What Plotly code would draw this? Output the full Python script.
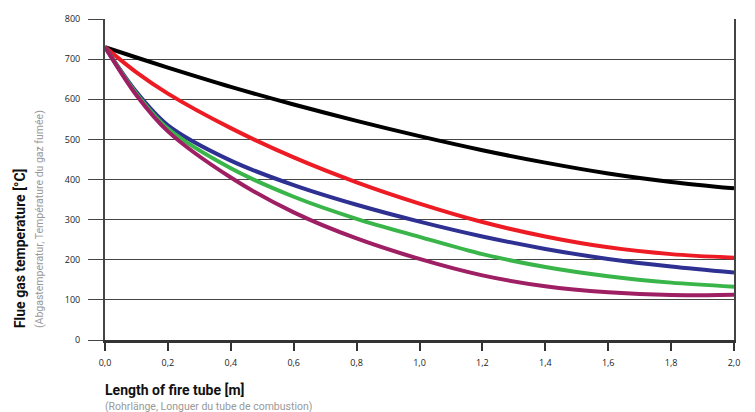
import plotly.graph_objects as go

length_m = [0.0, 0.1, 0.2, 0.4, 0.6, 0.8, 1.0, 1.2, 1.4, 1.6, 1.8, 2.0]
temp_black = [730, 704, 679, 631, 587, 546, 508, 473, 442, 415, 394, 378]
temp_red = [730, 667, 614, 528, 455, 393, 340, 294, 258, 231, 214, 205]
temp_blue = [730, 618, 535, 447, 386, 337, 295, 258, 227, 202, 183, 168]
temp_green = [730, 614, 527, 428, 357, 302, 257, 214, 182, 159, 143, 133]
temp_purple = [730, 610, 520, 405, 318, 253, 202, 161, 134, 119, 112, 113]

x_tickvals = [0.0, 0.2, 0.4, 0.6, 0.8, 1.0, 1.2, 1.4, 1.6, 1.8, 2.0]
x_ticktext = ["0,0", "0,2", "0,4", "0,6", "0,8", "1,0", "1,2", "1,4", "1,6", "1,8", "2,0"]
y_tickvals = [0, 100, 200, 300, 400, 500, 600, 700, 800]

series = [
    (temp_black, "#000000"),
    (temp_red, "#ED1C24"),
    (temp_blue, "#2E3192"),
    (temp_green, "#39B54A"),
    (temp_purple, "#9E1F63"),
]

fig = go.Figure()
for vals, col in series:
    fig.add_trace(go.Scatter(x=length_m, y=vals, mode="lines",
                             line=dict(color=col, width=4, shape="spline", smoothing=0.9),
                             showlegend=False, hoverinfo="skip"))

tick_font = dict(family="Open Sans, Noto Sans, sans-serif", size=9, color="#222")
title_font = "Roboto, Liberation Sans, sans-serif"

fig.update_layout(
    width=755, height=412,
    margin=dict(l=105, r=21, t=16, b=72),
    paper_bgcolor="white", plot_bgcolor="white",
    xaxis=dict(range=[0, 2.0], tickvals=x_tickvals, ticktext=x_ticktext,
               showgrid=False, zeroline=False,
               showline=True, linecolor="#333", linewidth=2.5,
               ticks="outside", ticklen=8, tickwidth=1.5, tickcolor="#333",
               ticklabelstandoff=4,
               tickfont=tick_font),
    yaxis=dict(range=[0, 800], tickvals=y_tickvals,
               showgrid=True, gridcolor="#444", gridwidth=1,
               zeroline=False,
               showline=True, linecolor="#444", linewidth=2, mirror=True,
               ticks="outside", ticklen=15, tickwidth=1, tickcolor="#444",
               ticklabelstandoff=6,
               tickfont=tick_font),
    annotations=[
        dict(text="<b>Length of fire tube [m]</b>", xref="paper", yref="paper",
             x=-0.003, y=-0.157, xanchor="left", yanchor="middle", showarrow=False,
             font=dict(family=title_font, size=14, color="#111")),
        dict(text="(Rohrlänge, Longuer du tube de combustion)", xref="paper", yref="paper",
             x=-0.003, y=-0.206, xanchor="left", yanchor="middle", showarrow=False,
             font=dict(family=title_font, size=10.5, color="#999")),
        dict(text="<b>Flue gas temperature [°C]</b>", xref="paper", yref="paper",
             x=-0.135, y=0.031, xanchor="center", yanchor="bottom", textangle=-90,
             showarrow=False, font=dict(family=title_font, size=14, color="#111")),
        dict(text="(Abgastemperatur, Température du gaz fumée)", xref="paper", yref="paper",
             x=-0.105, y=0.031, xanchor="center", yanchor="bottom", textangle=-90,
             showarrow=False, font=dict(family=title_font, size=10.5, color="#999")),
    ],
)

fig.write_html("out.html", config={"displayModeBar": False},
               post_script="document.body.style.margin='0';document.body.style.overflow='hidden';")
